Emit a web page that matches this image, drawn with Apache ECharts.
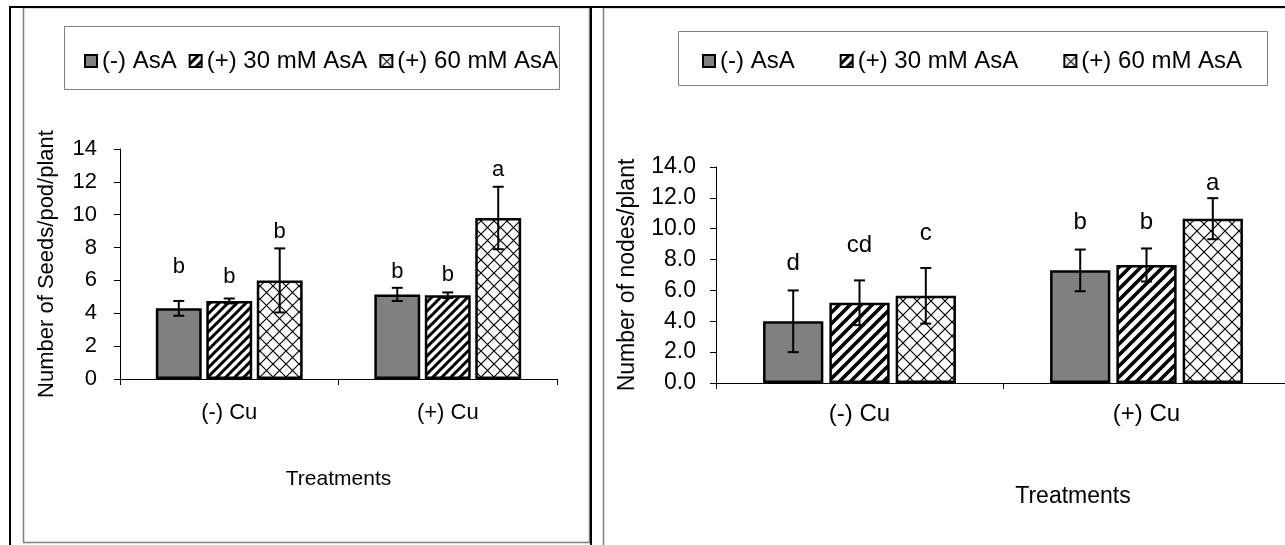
<!DOCTYPE html>
<html><head><meta charset="utf-8">
<script src="https://cdn.jsdelivr.net/npm/echarts@6/dist/echarts.min.js"></script>
<style>html,body{margin:0;padding:0;background:#fff}#c{width:1285px;height:545px}</style>
</head><body><div id="c"></div>
<script>
// ---------- data ----------
const categories = ['(-) Cu', '(+) Cu'];
const seriesNames = ['(-) AsA', '(+) 30 mM AsA', '(+) 60 mM AsA'];

// Left panel: Number of Seeds/pod/plant
const seedsNoAsA = [4.3, 5.15];
const seeds30 = [4.75, 5.1];
const seeds60 = [6.0, 9.8];
const seedsErrNoAsA = [0.45, 0.4];
const seedsErr30 = [0.15, 0.17];
const seedsErr60 = [1.95, 1.9];
const seedsLettersNoAsA = ['b', 'b'];
const seedsLetters30 = ['b', 'b'];
const seedsLetters60 = ['b', 'a'];
const seedsLetterAtNoAsA = [6.8, 6.53];
const seedsLetterAt30 = [6.2, 6.33];
const seedsLetterAt60 = [8.95, 12.72];
const seedsTicks = [0, 14, 2];

// Right panel: Number of nodes/plant
const nodesNoAsA = [4.0, 7.3];
const nodes30 = [5.2, 7.65];
const nodes60 = [5.65, 10.65];
const nodesErrNoAsA = [2.0, 1.35];
const nodesErr30 = [1.45, 1.07];
const nodesErr60 = [1.8, 1.33];
const nodesLettersNoAsA = ['d', 'b'];
const nodesLetters30 = ['cd', 'b'];
const nodesLetters60 = ['c', 'a'];
const nodesLetterAtNoAsA = [7.75, 10.44];
const nodesLetterAt30 = [8.94, 10.38];
const nodesLetterAt60 = [9.69, 12.92];
const nodesTicks = [0, 14, 2];

// ---------- styles ----------
const FONT = "'Liberation Sans', Arial, sans-serif";
const BARW = 0.21, GAP = 0.10;

function stripePattern(p, lw) {
  const c = document.createElement('canvas'); c.width = p; c.height = p;
  const g = c.getContext('2d');
  g.fillStyle = '#fff'; g.fillRect(0, 0, p, p);
  g.strokeStyle = '#000'; g.lineWidth = lw;
  g.beginPath();
  g.moveTo(-p, p); g.lineTo(p, -p);
  g.moveTo(0, 2 * p); g.lineTo(2 * p, 0);
  g.moveTo(-p, 2 * p); g.lineTo(2 * p, -p);
  g.stroke();
  return { image: c, repeat: 'repeat' };
}
function crossPattern(p, lw) {
  const c = document.createElement('canvas'); c.width = p; c.height = p;
  const g = c.getContext('2d');
  g.fillStyle = '#fff'; g.fillRect(0, 0, p, p);
  g.strokeStyle = '#000'; g.lineWidth = lw;
  g.beginPath();
  g.moveTo(0, 0); g.lineTo(p, p);
  g.moveTo(0, p); g.lineTo(p, 0);
  g.stroke();
  return { image: c, repeat: 'repeat' };
}
const fillsByAxis = [
  ['#808080', stripePattern(9, 3), crossPattern(13, 1.2)],
  ['#808080', stripePattern(11, 3.6), crossPattern(14, 1.2)]
];

function barSeries(i, data, axis) {
  return {
    name: seriesNames[i], type: 'bar', xAxisIndex: axis, yAxisIndex: axis,
    data: data, barWidth: (BARW * 100) + '%', barGap: (GAP * 100) + '%',
    itemStyle: { color: fillsByAxis[axis][i], borderColor: '#000', borderWidth: 2.5 },
    emphasis: { disabled: true }, animation: false
  };
}
function errSeries(i, vals, errs, letters, letterAt, axis, fs) {
  return {
    type: 'custom', xAxisIndex: axis, yAxisIndex: axis, z: 10, silent: true, animation: false,
    data: vals.map((v, k) => [k, v, errs[k], letterAt[k]]),
    encode: { x: 0, y: 1 },
    renderItem: function (params, api) {
      const ci = api.value(0), v = api.value(1), e = api.value(2), la = api.value(3);
      const band = api.size([1, 0])[0];
      const w = band * BARW;
      const off = (i - 1) * w * (1 + GAP);
      const top = api.coord([ci, v + e]);
      const bot = api.coord([ci, v - e]);
      const lp = api.coord([ci, la]);
      const x = top[0] + off;
      const cap = 5.5;
      const st = { stroke: '#000', lineWidth: 2 };
      return {
        type: 'group', children: [
          { type: 'line', shape: { x1: x, y1: top[1], x2: x, y2: bot[1] }, style: st },
          { type: 'line', shape: { x1: x - cap, y1: top[1], x2: x + cap, y2: top[1] }, style: st },
          { type: 'line', shape: { x1: x - cap, y1: bot[1], x2: x + cap, y2: bot[1] }, style: st },
          { type: 'text', x: x, y: lp[1], style: { text: letters[params.dataIndex], fill: '#000', fontSize: fs, fontFamily: FONT, align: 'center', verticalAlign: 'middle', textAlign: 'center', textVerticalAlign: 'middle' } }
        ]
      };
    }
  };
}

const axisLineStyle = { show: true, lineStyle: { color: '#000', width: 1 } };

const option = {
  backgroundColor: '#fff',
  animation: false,
  textStyle: { fontFamily: FONT },
  graphic: [
    { type: 'rect', shape: { x: 23.5, y: 7.5, width: 566, height: 535 }, style: { fill: 'none', stroke: '#808080', lineWidth: 1.5 }, z: -1 },
    { type: 'rect', shape: { x: 603.5, y: 7.5, width: 700, height: 600 }, style: { fill: 'none', stroke: '#808080', lineWidth: 1.5 }, z: -1 },
    { type: 'line', shape: { x1: 9, y1: 7, x2: 1285, y2: 7 }, style: { stroke: '#000', lineWidth: 2 } },
    { type: 'line', shape: { x1: 10, y1: 6, x2: 10, y2: 545 }, style: { stroke: '#000', lineWidth: 2 } },
    { type: 'line', shape: { x1: 591, y1: 6, x2: 591, y2: 545 }, style: { stroke: '#000', lineWidth: 2 } },
    { type: 'rect', shape: { x: 64.5, y: 26.5, width: 495, height: 63 }, style: { fill: 'none', stroke: '#808080', lineWidth: 1 } },
    { type: 'rect', shape: { x: 678.5, y: 31.5, width: 589, height: 54 }, style: { fill: 'none', stroke: '#808080', lineWidth: 1 } }
  ],
  legend: [
    { data: seriesNames, left: 79, top: 44, itemWidth: 12, itemHeight: 12, itemGap: 12, icon: 'rect',
      textStyle: { fontSize: 24, color: '#000', fontFamily: FONT }, selectedMode: false },
    { data: seriesNames, left: 697, top: 44, itemWidth: 12, itemHeight: 12, itemGap: 45, icon: 'rect',
      textStyle: { fontSize: 24, color: '#000', fontFamily: FONT }, selectedMode: false }
  ],
  grid: [
    { left: 120, top: 149, width: 437, height: 230, containLabel: false, outerBoundsMode: 'none' },
    { left: 716, top: 167, width: 574, height: 216, containLabel: false, outerBoundsMode: 'none' }
  ],
  xAxis: [
    { type: 'category', gridIndex: 0, data: categories, axisLine: axisLineStyle,
      axisTick: { show: true, length: 6, lineStyle: { color: '#000' } },
      axisLabel: { fontSize: 22, color: '#000', margin: 23, fontFamily: FONT },
      name: 'Treatments', nameLocation: 'middle', nameGap: 90,
      nameTextStyle: { fontSize: 21, color: '#000', fontFamily: FONT } },
    { type: 'category', gridIndex: 1, data: categories, axisLine: axisLineStyle,
      axisTick: { show: true, length: 6, lineStyle: { color: '#000' } },
      axisLabel: { fontSize: 24, color: '#000', margin: 19, fontFamily: FONT },
      name: 'Treatments', nameLocation: 'middle', nameGap: 102,
      nameTextStyle: { fontSize: 23, color: '#000', fontFamily: FONT, padding: [0, 0, 0, 140] } }
  ],
  yAxis: [
    { type: 'value', gridIndex: 0, min: seedsTicks[0], max: seedsTicks[1], interval: seedsTicks[2],
      axisLine: axisLineStyle, splitLine: { show: false },
      axisTick: { show: true, length: 6, lineStyle: { color: '#000' } },
      axisLabel: { fontSize: 22, color: '#000', margin: 23, fontFamily: FONT },
      name: 'Number of Seeds/pod/plant', nameLocation: 'middle', nameGap: 62, nameRotate: 90,
      nameTextStyle: { fontSize: 22, color: '#000', fontFamily: FONT } },
    { type: 'value', gridIndex: 1, min: nodesTicks[0], max: nodesTicks[1], interval: nodesTicks[2],
      axisLine: axisLineStyle, splitLine: { show: false },
      axisTick: { show: true, length: 6, lineStyle: { color: '#000' } },
      axisLabel: { fontSize: 23, color: '#000', margin: 20, fontFamily: FONT, formatter: v => v.toFixed(1) },
      name: 'Number of nodes/plant', nameLocation: 'middle', nameGap: 77, nameRotate: 90,
      nameTextStyle: { fontSize: 23, color: '#000', fontFamily: FONT } }
  ],
  series: [
    barSeries(0, seedsNoAsA, 0), barSeries(1, seeds30, 0), barSeries(2, seeds60, 0),
    barSeries(0, nodesNoAsA, 1), barSeries(1, nodes30, 1), barSeries(2, nodes60, 1),
    errSeries(0, seedsNoAsA, seedsErrNoAsA, seedsLettersNoAsA, seedsLetterAtNoAsA, 0, 22),
    errSeries(1, seeds30, seedsErr30, seedsLetters30, seedsLetterAt30, 0, 22),
    errSeries(2, seeds60, seedsErr60, seedsLetters60, seedsLetterAt60, 0, 22),
    errSeries(0, nodesNoAsA, nodesErrNoAsA, nodesLettersNoAsA, nodesLetterAtNoAsA, 1, 24),
    errSeries(1, nodes30, nodesErr30, nodesLetters30, nodesLetterAt30, 1, 24),
    errSeries(2, nodes60, nodesErr60, nodesLetters60, nodesLetterAt60, 1, 24)
  ]
};
const chart = echarts.init(document.getElementById('c'), null, { renderer: 'canvas' });
chart.setOption(option);
</script>
</body></html>
